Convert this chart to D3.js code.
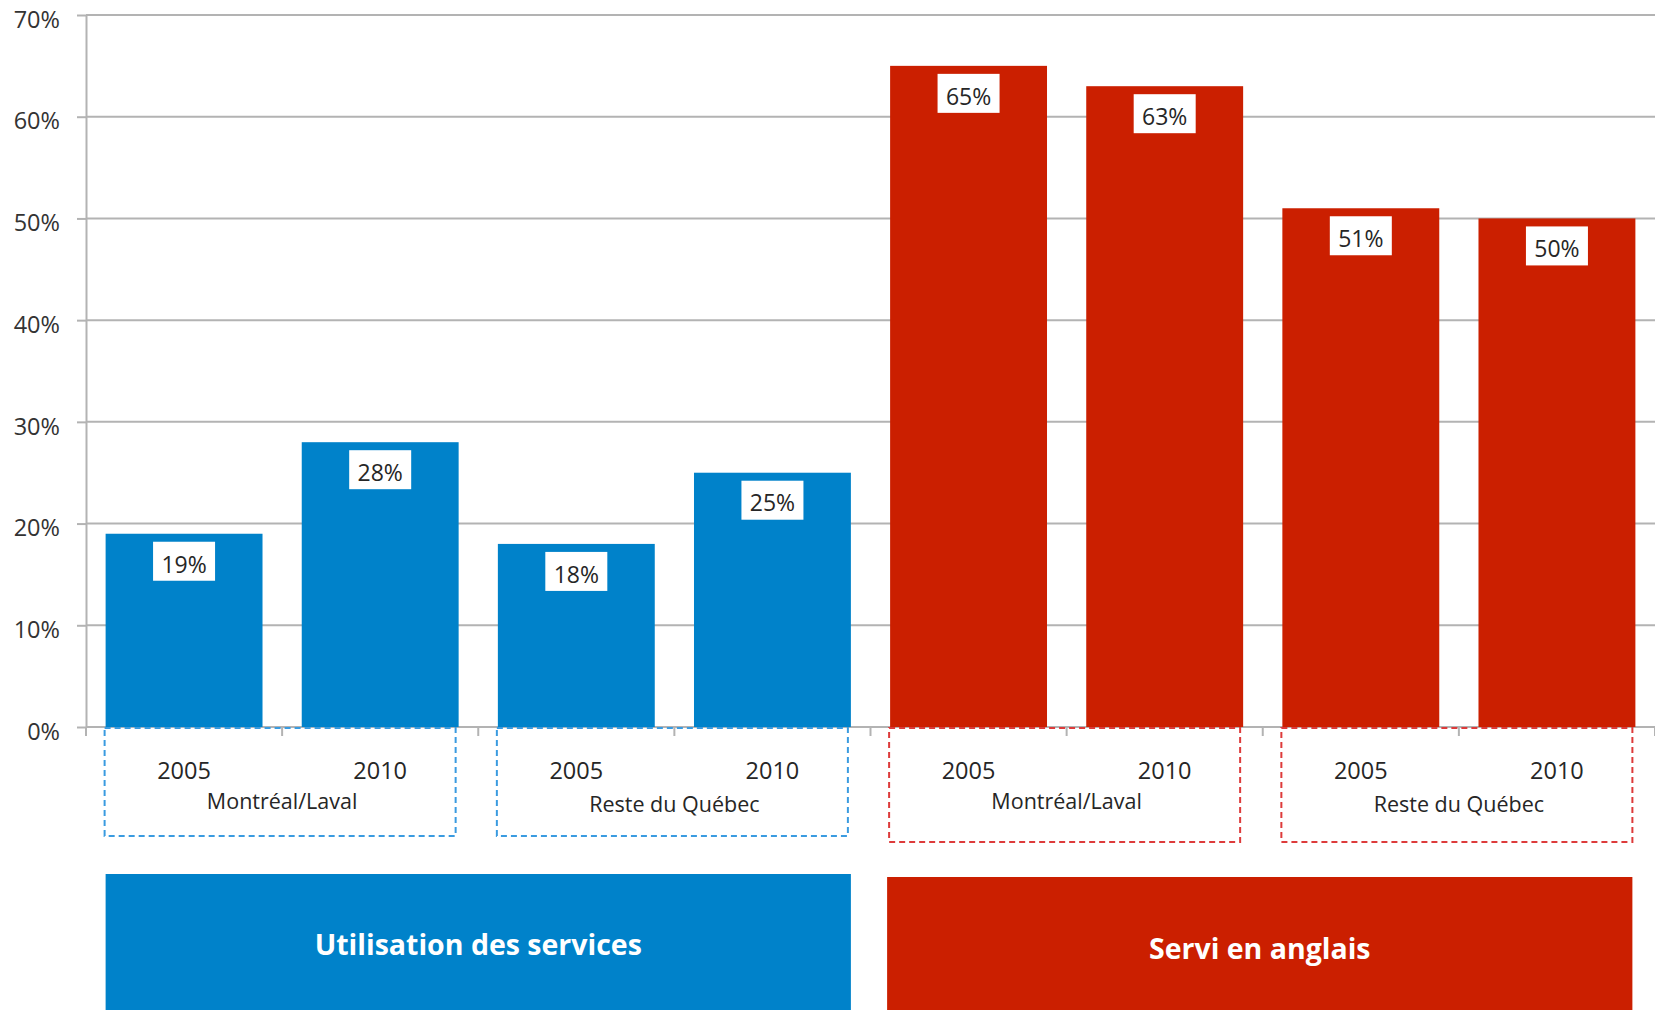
<!DOCTYPE html>
<html lang="fr">
<head>
<meta charset="utf-8">
<title>Utilisation des services et service en anglais, 2005 et 2010</title>
<script src="https://cdn.jsdelivr.net/npm/d3@7"></script>
<style>
  html, body { margin: 0; padding: 0; background: #fff; }
  svg { display: block; font-family: "Open Sans", "DejaVu Sans", sans-serif; }
</style>
</head>
<body>
<svg id="chart" width="1655" height="1010"></svg>
<script>
// Survey years, regions and the two measured themes
const years = ["2005", "2010"];
const regions = ["Montréal/Laval", "Reste du Québec"];
const themes = ["Utilisation des services", "Servi en anglais"];

// Percentages, ordered region by region then year by year
const usageValues = [19, 28, 18, 25];
const englishValues = [65, 63, 51, 50];

// Y axis ticks (%)
const yTicks = [0, 10, 20, 30, 40, 50, 60, 70];

const themeColors = ["#0082ca", "#cb1f00"];
const dashColors = ["#3a9be0", "#dd3b3b"];

// One record per bar
const bars = [];
[usageValues, englishValues].forEach((vals, t) => {
  vals.forEach((v, i) => {
    bars.push({
      theme: t,
      region: Math.floor(i / years.length),
      year: years[i % years.length],
      value: v,
      key: `${t}-${i}`
    });
  });
});

const svg = d3.select("#chart");
const W = 1655;
const plotLeft = 86, plotRight = 1655, plotTop = 15, plotBottom = 727;

const x = d3.scaleBand()
  .domain(bars.map(d => d.key))
  .range([plotLeft, plotRight])
  .paddingInner(0.2)
  .paddingOuter(0.1);

const y = d3.scaleLinear()
  .domain([0, 70])
  .range([plotBottom, plotTop]);

// Horizontal grid lines
svg.append("g")
  .selectAll("line")
  .data(yTicks)
  .join("line")
  .attr("x1", plotLeft)
  .attr("x2", W)
  .attr("y1", d => y(d))
  .attr("y2", d => y(d))
  .attr("stroke", "#b3b3b3")
  .attr("stroke-width", 2);

// Y axis with short outer ticks and percent labels
const yAxis = svg.append("g")
  .attr("transform", `translate(${plotLeft},0)`)
  .call(d3.axisLeft(y).tickValues(yTicks).tickSize(9).tickSizeOuter(0).tickPadding(17)
    .tickFormat(d => d + "%"));
yAxis.select(".domain").attr("stroke", "#b3b3b3").attr("stroke-width", 2);
yAxis.selectAll(".tick line").attr("stroke", "#b3b3b3").attr("stroke-width", 2);
yAxis.selectAll(".tick text")
  .attr("fill", "#333")
  .attr("font-size", 23.5)
  .attr("font-family", "'Open Sans', sans-serif")
  .attr("dy", "0.52em");

// Category boundary ticks below the baseline
const boundaries = d3.range(bars.length + 1).map(i => plotLeft + i * x.step());
svg.append("g")
  .selectAll("line")
  .data(boundaries)
  .join("line")
  .attr("x1", d => d).attr("x2", d => d)
  .attr("y1", plotBottom).attr("y2", plotBottom + 9)
  .attr("stroke", "#b3b3b3")
  .attr("stroke-width", 2);

// Bars
svg.append("g")
  .selectAll("rect")
  .data(bars)
  .join("rect")
  .attr("x", d => x(d.key))
  .attr("y", d => y(d.value))
  .attr("width", x.bandwidth())
  .attr("height", d => y(0) - y(d.value))
  .attr("fill", d => themeColors[d.theme]);

// Value labels in white boxes
const labelW = 62, labelH = 39, labelGap = 8;
const labels = svg.append("g")
  .selectAll("g")
  .data(bars)
  .join("g")
  .attr("transform", d => `translate(${x(d.key) + x.bandwidth() / 2},${y(d.value) + labelGap})`);
labels.append("rect")
  .attr("x", -labelW / 2)
  .attr("width", labelW)
  .attr("height", labelH)
  .attr("fill", "#fff");
labels.append("text")
  .attr("y", labelH / 2 + 3)
  .attr("dy", "0.36em")
  .attr("text-anchor", "middle")
  .attr("font-size", 23)
  .attr("fill", "#262626")
  .text(d => d.value + "%");

// Year labels under each bar
svg.append("g")
  .selectAll("text")
  .data(bars)
  .join("text")
  .attr("x", d => x(d.key) + x.bandwidth() / 2)
  .attr("y", 771)
  .attr("dy", "0.36em")
  .attr("text-anchor", "middle")
  .attr("font-size", 23.5)
  .attr("fill", "#262626")
  .text(d => d.year);

// Region groups: dashed frame and region name
const groups = d3.groups(bars, d => d.theme, d => d.region)
  .flatMap(([t, regs]) => regs.map(([r, items]) => ({ theme: t, region: r, items })));

const groupSel = svg.append("g")
  .selectAll("g")
  .data(groups)
  .join("g");

groupSel.append("rect")
  .attr("x", d => x(d.items[0].key) - 1)
  .attr("y", plotBottom + 1)
  .attr("width", d => x(d.items[d.items.length - 1].key) + x.bandwidth() - x(d.items[0].key) - 2)
  .attr("height", d => d.theme === 0 ? 108 : 114)
  .attr("fill", "none")
  .attr("stroke", d => dashColors[d.theme])
  .attr("stroke-width", 2)
  .attr("stroke-dasharray", "6,4");

groupSel.append("text")
  .attr("x", d => (x(d.items[0].key) + x(d.items[d.items.length - 1].key) + x.bandwidth()) / 2)
  .attr("y", d => d.region === 0 ? 801 : 804)
  .attr("dy", "0.36em")
  .attr("text-anchor", "middle")
  .attr("font-size", 21.5)
  .attr("fill", "#262626")
  .text(d => regions[d.region]);

// Theme banners along the bottom
const themeSpans = themes.map((name, t) => {
  const items = bars.filter(b => b.theme === t);
  return {
    name, t,
    x0: x(items[0].key),
    x1: x(items[items.length - 1].key) + x.bandwidth()
  };
});

const banners = svg.append("g")
  .selectAll("g")
  .data(themeSpans)
  .join("g");
banners.append("rect")
  .attr("x", d => d.x0 - (d.t === 0 ? 0 : 3))
  .attr("y", d => d.t === 0 ? 874 : 877)
  .attr("width", d => d.x1 - d.x0)
  .attr("height", d => 1010 - (d.t === 0 ? 874 : 877))
  .attr("fill", d => themeColors[d.t]);
banners.append("text")
  .attr("x", d => (d.x0 + d.x1) / 2 - (d.t === 0 ? 0 : 3))
  .attr("y", d => d.t === 0 ? 945 : 949)
  .attr("dy", "0.36em")
  .attr("text-anchor", "middle")
  .attr("font-size", 28.5)
  .attr("font-weight", "bold")
  .attr("fill", "#fff")
  .text(d => d.name);
</script>
</body>
</html>
